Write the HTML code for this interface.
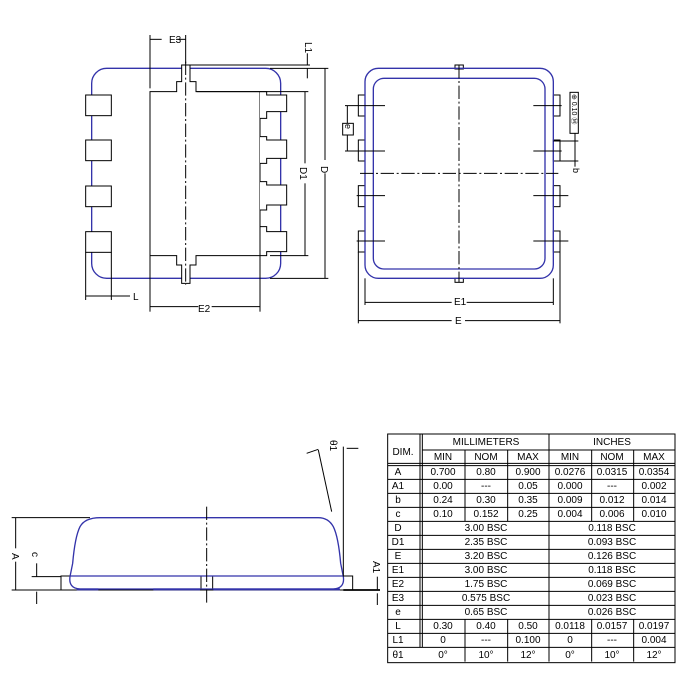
<!DOCTYPE html>
<html><head><meta charset="utf-8"><style>
html,body{margin:0;padding:0;background:#fff}
svg{display:block}
text{font-family:"Liberation Sans",sans-serif;fill:#000}
</style></head><body>
<svg width="694" height="698" viewBox="0 0 694 698" xmlns="http://www.w3.org/2000/svg">
<rect width="694" height="698" fill="#fff"/>

<!-- Drawing 1 -->
<g transform="translate(70,30) scale(0.33333)" fill="none" stroke="#000" stroke-width="3">
  <rect x="65" y="115" width="567" height="630" rx="45" stroke="#3333aa" stroke-width="4"/>
  <rect x="47" y="195" width="77" height="62" fill="#fff"/>
  <rect x="47" y="330" width="77" height="62" fill="#fff"/>
  <rect x="47" y="468" width="77" height="62" fill="#fff"/>
  <rect x="47" y="605" width="77" height="62" fill="#fff"/>
  <path fill="#fff" d="M240 185 H320 V155 H335 V105 H360 V155 H378 V185 H570 V677 H378 V705 H360 V760 H335 V705 H320 V677 H240 Z"/>
  <path fill="#fff" d="M570 185 H590 V195 H650 V245 H590 V265 H570 V320 H590 V330 H650 V385 H590 V400 H570 V455 H590 V465 H650 V525 H590 V540 H570 V590 H590 V605 H650 V665 H590 V677 H570"/>
  <line x1="347" y1="95" x2="347" y2="765" stroke-dasharray="40,8,6,8"/>
  <!-- E3 -->
  <line x1="240" y1="15" x2="240" y2="175"/><line x1="347" y1="15" x2="347" y2="100"/>
  <line x1="240" y1="28" x2="275" y2="28"/><line x1="318" y1="28" x2="347" y2="28"/>
  <!-- L1 / D / D1 -->
  <line x1="335" y1="105" x2="720" y2="105"/><line x1="600" y1="115" x2="775" y2="115"/>
  <line x1="712" y1="70" x2="712" y2="105"/><line x1="712" y1="115" x2="712" y2="145"/>
  <line x1="380" y1="185" x2="715" y2="185"/><line x1="600" y1="677" x2="715" y2="677"/>
  <line x1="600" y1="745" x2="775" y2="745"/>
  <line x1="705" y1="185" x2="705" y2="400"/><line x1="705" y1="460" x2="705" y2="677"/>
  <line x1="765" y1="115" x2="765" y2="390"/><line x1="765" y1="430" x2="765" y2="745"/>
  <!-- L -->
  <line x1="47" y1="667" x2="47" y2="810"/><line x1="124" y1="667" x2="124" y2="810"/>
  <line x1="47" y1="798" x2="180" y2="798"/>
  <!-- E2 -->
  <line x1="240" y1="677" x2="240" y2="845"/><line x1="570" y1="590" x2="570" y2="845"/>
  <line x1="240" y1="830" x2="385" y2="830"/><line x1="425" y1="830" x2="570" y2="830"/>
</g>
<text x="169" y="43" font-size="10">E3</text>
<text x="0" y="0" font-size="10" transform="translate(305,42) rotate(90)">L1</text>
<text x="0" y="0" font-size="10" transform="translate(300,167) rotate(90)">D1</text>
<text x="0" y="0" font-size="10" transform="translate(321,166) rotate(90)">D</text>
<text x="133" y="300" font-size="10">L</text>
<text x="198" y="312" font-size="10">E2</text>

<!-- Drawing 2 -->
<g transform="translate(340,55) scale(0.33333)" fill="none" stroke="#000" stroke-width="3">
  <rect x="345" y="30" width="25" height="12"/><rect x="345" y="670" width="25" height="12"/>
  <rect x="55" y="120" width="20" height="63"/><rect x="55" y="255" width="20" height="63"/>
  <rect x="55" y="392" width="20" height="63"/><rect x="55" y="528" width="20" height="63"/>
  <rect x="640" y="120" width="20" height="63"/><rect x="640" y="255" width="20" height="63"/>
  <rect x="640" y="392" width="20" height="63"/><rect x="640" y="528" width="20" height="63"/>
  <rect x="75" y="40" width="565" height="630" rx="40" stroke="#3333aa" stroke-width="4"/>
  <rect x="100" y="70" width="515" height="572" rx="32" stroke="#3333aa" stroke-width="4"/>
  <line x1="15" y1="152" x2="135" y2="152"/><line x1="15" y1="288" x2="135" y2="288"/>
  <line x1="50" y1="422" x2="135" y2="422"/><line x1="50" y1="558" x2="135" y2="558"/>
  <line x1="580" y1="152" x2="665" y2="152"/><line x1="580" y1="288" x2="665" y2="288"/>
  <line x1="580" y1="422" x2="685" y2="422"/><line x1="580" y1="558" x2="685" y2="558"/>
  <line x1="60" y1="355" x2="655" y2="355" stroke-dasharray="40,8,6,8"/>
  <line x1="357" y1="30" x2="357" y2="682" stroke-dasharray="40,8,6,8"/>
  <line x1="22" y1="152" x2="22" y2="205"/><line x1="22" y1="240" x2="22" y2="288"/>
  <rect x="8" y="205" width="32" height="35" fill="#fff"/>
  <rect x="690" y="112" width="25" height="123" fill="#fff"/>
  <line x1="640" y1="258" x2="715" y2="258"/><line x1="660" y1="318" x2="715" y2="318"/>
  <line x1="705" y1="235" x2="705" y2="335"/>
  <line x1="75" y1="670" x2="75" y2="750"/><line x1="640" y1="670" x2="640" y2="750"/>
  <line x1="55" y1="591" x2="55" y2="805"/><line x1="660" y1="591" x2="660" y2="805"/>
  <line x1="75" y1="742" x2="335" y2="742"/><line x1="380" y1="742" x2="640" y2="742"/>
  <line x1="55" y1="797" x2="335" y2="797"/><line x1="375" y1="797" x2="660" y2="797"/>
</g>
<text x="0" y="0" font-size="9" transform="translate(345,124) rotate(90)">e</text>
<text x="0" y="0" font-size="7" transform="translate(572,94) rotate(90)">⊕ 0.10 Ⓜ</text>
<text x="0" y="0" font-size="9" transform="translate(573,168) rotate(90)">b</text>
<text x="454" y="305" font-size="10">E1</text>
<text x="455" y="324" font-size="10">E</text>

<!-- Side view -->
<g transform="translate(0,430) scale(0.33333)" fill="none" stroke="#000" stroke-width="3">
  <rect x="183" y="438" width="875" height="42" fill="#fff"/>
  <line x1="603" y1="438" x2="603" y2="480"/><line x1="638" y1="438" x2="638" y2="480"/>
  <path d="M300 263 H955 Q985 263 1000 290 Q1015 320 1022 400 L1030 440 Q1035 475 1000 477 H240 Q205 475 210 440 L218 400 Q225 320 240 290 Q255 263 300 263 Z" stroke="#3333aa" stroke-width="4"/>
  <line x1="210" y1="438" x2="1030" y2="438" stroke="#3333aa" stroke-width="4"/>
  <path d="M230 478 H295 M460 478 H600 M640 478 H1020" stroke="#3333aa" stroke-width="6"/>
  <line x1="620" y1="230" x2="620" y2="525" stroke-dasharray="40,8,6,8"/>
  <line x1="35" y1="263" x2="270" y2="263"/><line x1="35" y1="480" x2="183" y2="480"/>
  <line x1="47" y1="263" x2="47" y2="355"/><line x1="47" y1="395" x2="47" y2="480"/>
  <line x1="95" y1="440" x2="183" y2="440"/>
  <line x1="110" y1="400" x2="110" y2="440"/><line x1="110" y1="485" x2="110" y2="522"/>
  <line x1="1030" y1="480" x2="1140" y2="480" stroke-width="5"/>
  <line x1="1132" y1="440" x2="1132" y2="478"/><line x1="1132" y1="490" x2="1132" y2="525"/>
  <line x1="1030" y1="50" x2="1030" y2="440"/>
  <line x1="955" y1="60" x2="995" y2="245"/><line x1="920" y1="70" x2="955" y2="58"/>
  <line x1="1040" y1="55" x2="1075" y2="55"/>
</g>
<text x="0" y="0" font-size="10" transform="translate(12,553) rotate(90)">A</text>
<text x="0" y="0" font-size="10" transform="translate(32,552) rotate(90)">c</text>
<text x="0" y="0" font-size="10" transform="translate(373,561) rotate(90)">A1</text>
<text x="0" y="0" font-size="10" transform="translate(330,440) rotate(90)">θ1</text>

<!-- Table -->
<g transform="translate(385,430) scale(0.33333)" fill="none" stroke="#000" stroke-width="3">
  <rect x="8" y="12" width="862" height="686"/>
  <line x1="105" y1="12" x2="105" y2="652"/><line x1="112" y1="12" x2="112" y2="652"/>
  <line x1="112" y1="60" x2="870" y2="60"/>
  <line x1="8" y1="100" x2="870" y2="100"/><line x1="8" y1="107" x2="870" y2="107"/>
  <line x1="492" y1="12" x2="492" y2="695"/>
  <path d="M240 60 V274 M368 60 V274 M620 60 V274 M746 60 V274 M240 568 V695 M368 568 V695 M620 568 V695 M746 568 V695"/>
  <path d="M8 148 H870 M8 190 H870 M8 232 H870 M8 274 H870 M8 316 H870 M8 358 H870 M8 400 H870 M8 442 H870 M8 484 H870 M8 526 H870 M8 568 H870 M8 610 H870 M8 652 H870"/>
</g>
<g font-size="10" text-anchor="middle">
<text x="403" y="455">DIM.</text>
<text x="486" y="445">MILLIMETERS</text><text x="612" y="445">INCHES</text>
<g id="r0"><text x="443" y="460">MIN</text><text x="486" y="460">NOM</text><text x="528" y="460">MAX</text><text x="570" y="460">MIN</text><text x="612" y="460">NOM</text><text x="654" y="460">MAX</text></g>
<text x="388" y="0"/>
<text x="398" y="475">A</text><text x="443" y="475">0.700</text><text x="486" y="475">0.80</text><text x="528" y="475">0.900</text><text x="570" y="475">0.0276</text><text x="612" y="475">0.0315</text><text x="654" y="475">0.0354</text>
<text x="398" y="489">A1</text><text x="443" y="489">0.00</text><text x="486" y="489">---</text><text x="528" y="489">0.05</text><text x="570" y="489">0.000</text><text x="612" y="489">---</text><text x="654" y="489">0.002</text>
<text x="398" y="503">b</text><text x="443" y="503">0.24</text><text x="486" y="503">0.30</text><text x="528" y="503">0.35</text><text x="570" y="503">0.009</text><text x="612" y="503">0.012</text><text x="654" y="503">0.014</text>
<text x="398" y="517">c</text><text x="443" y="517">0.10</text><text x="486" y="517">0.152</text><text x="528" y="517">0.25</text><text x="570" y="517">0.004</text><text x="612" y="517">0.006</text><text x="654" y="517">0.010</text>
<text x="398" y="531">D</text><text x="486" y="531">3.00 BSC</text><text x="612" y="531">0.118 BSC</text>
<text x="398" y="545">D1</text><text x="486" y="545">2.35 BSC</text><text x="612" y="545">0.093 BSC</text>
<text x="398" y="559">E</text><text x="486" y="559">3.20 BSC</text><text x="612" y="559">0.126 BSC</text>
<text x="398" y="573">E1</text><text x="486" y="573">3.00 BSC</text><text x="612" y="573">0.118 BSC</text>
<text x="398" y="587">E2</text><text x="486" y="587">1.75 BSC</text><text x="612" y="587">0.069 BSC</text>
<text x="398" y="601">E3</text><text x="486" y="601">0.575 BSC</text><text x="612" y="601">0.023 BSC</text>
<text x="398" y="615">e</text><text x="486" y="615">0.65 BSC</text><text x="612" y="615">0.026 BSC</text>
<text x="398" y="629">L</text><text x="443" y="629">0.30</text><text x="486" y="629">0.40</text><text x="528" y="629">0.50</text><text x="570" y="629">0.0118</text><text x="612" y="629">0.0157</text><text x="654" y="629">0.0197</text>
<text x="398" y="643">L1</text><text x="443" y="643">0</text><text x="486" y="643">---</text><text x="528" y="643">0.100</text><text x="570" y="643">0</text><text x="612" y="643">---</text><text x="654" y="643">0.004</text>
<text x="398" y="658">θ1</text><text x="443" y="658">0°</text><text x="486" y="658">10°</text><text x="528" y="658">12°</text><text x="570" y="658">0°</text><text x="612" y="658">10°</text><text x="654" y="658">12°</text>
</g>
</svg>
</body></html>
